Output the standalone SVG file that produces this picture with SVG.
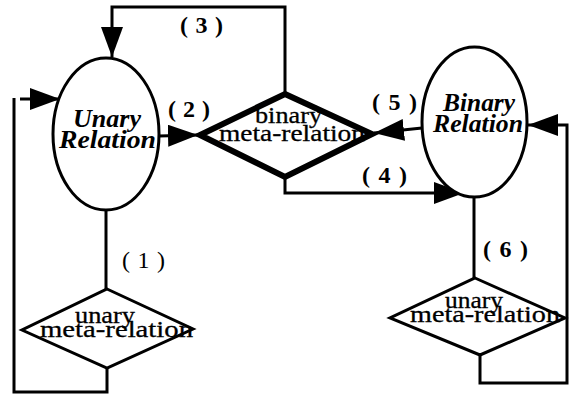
<svg xmlns="http://www.w3.org/2000/svg" width="569" height="394" viewBox="0 0 569 394">
  <style>
    .edge { fill: none; stroke: #000; stroke-width: 3; stroke-linejoin: miter; }
    .node { fill: #fff; stroke: #000; stroke-width: 3; }
    .thick { fill: none; stroke: #000; stroke-width: 6; stroke-linejoin: miter; }
    .title { font-family: "Liberation Serif", "Times New Roman", serif; font-weight: bold; font-style: italic; font-size: 26px; text-anchor: middle; }
    .meta { font-family: "Liberation Serif", "Times New Roman", serif; font-size: 23px; text-anchor: middle; stroke: #000; stroke-width: 0.3; }
    .num { font-family: "Liberation Serif", "Times New Roman", serif; font-weight: bold; font-size: 24px; }
    .num.plain { font-weight: normal; }
  </style>
  <defs>
    <marker id="arrow" markerUnits="userSpaceOnUse" markerWidth="32" markerHeight="24" refX="30" refY="11" orient="auto">
      <path d="M0,0 L30,11 L0,22 Z" fill="#000"/>
    </marker>
  </defs>
  <rect width="569" height="394" fill="#fff"/>

  <!-- connectors -->
  <g id="connectors">
    <!-- (1) unary relation to its unary meta-relation, looping back -->
    <path class="edge" d="M106,210 V289"/>
    <path class="edge" d="M107,368 V392 H14 V98 M20,99 L60,99" marker-end="url(#arrow)"/>
    <!-- (2) unary relation into binary meta-relation -->
    <path class="edge" d="M159,136 L198,135" marker-end="url(#arrow)"/>
    <!-- (3) binary meta-relation back to unary relation -->
    <path class="edge" d="M285,94 V7 H112 V57" marker-end="url(#arrow)"/>
    <!-- (4) binary meta-relation to binary relation -->
    <path class="edge" d="M285,177 V193 H464" marker-end="url(#arrow)"/>
    <!-- (5) binary relation into binary meta-relation -->
    <path class="edge" d="M422,128 L374,133" marker-end="url(#arrow)"/>
    <!-- (6) binary relation to its unary meta-relation, looping back -->
    <path class="edge" d="M474,197 V278"/>
    <path class="edge" d="M480,355 V383 H567 V125 L528,125" marker-end="url(#arrow)"/>
  </g>

  <!-- edge labels -->
  <g id="labels">
    <text class="num plain" x="122" y="268" textLength="43">( 1 )</text>
    <text class="num" x="168" y="117" textLength="42">( 2 )</text>
    <text class="num" x="180" y="33" textLength="43">( 3 )</text>
    <text class="num" x="362" y="183" textLength="45">( 4 )</text>
    <text class="num" x="372" y="110" textLength="45">( 5 )</text>
    <text class="num" x="483" y="257" textLength="45">( 6 )</text>
  </g>

  <g id="unary-relation">
    <ellipse class="node" cx="106" cy="134" rx="53" ry="76"/>
    <text class="title" x="107" y="127" textLength="68" lengthAdjust="spacingAndGlyphs">Unary</text>
    <text class="title" x="107.5" y="148" textLength="97" lengthAdjust="spacingAndGlyphs">Relation</text>
  </g>

  <g id="binary-relation">
    <ellipse class="node" cx="474.5" cy="122" rx="52.5" ry="75"/>
    <text class="title" x="479" y="111" textLength="72" lengthAdjust="spacingAndGlyphs">Binary</text>
    <text class="title" x="478" y="132" textLength="90" lengthAdjust="spacingAndGlyphs">Relation</text>
  </g>

  <g id="binary-meta-relation">
    <polygon points="285,94 372,134 285,177 200,135" fill="#fff"/>
    <text class="meta" x="288.5" y="123" textLength="67" lengthAdjust="spacingAndGlyphs">binary</text>
    <text class="meta" x="292" y="141" textLength="146" lengthAdjust="spacingAndGlyphs">meta-relation</text>
    <polygon class="thick" points="285,94 372,134 285,177 200,135"/>
  </g>

  <g id="unary-meta-relation-1">
    <polygon class="node" points="107,289 193,329 107,368 22,330"/>
    <text class="meta" x="105" y="323" textLength="60" lengthAdjust="spacingAndGlyphs">unary</text>
    <text class="meta" x="116.5" y="337" textLength="153" lengthAdjust="spacingAndGlyphs">meta-relation</text>
  </g>

  <g id="unary-meta-relation-2">
    <polygon class="node" points="475,278 565,318 480,355 390,318"/>
    <text class="meta" x="474" y="308" textLength="58" lengthAdjust="spacingAndGlyphs">unary</text>
    <text class="meta" x="485" y="322" textLength="150" lengthAdjust="spacingAndGlyphs">meta-relation</text>
  </g>
</svg>
